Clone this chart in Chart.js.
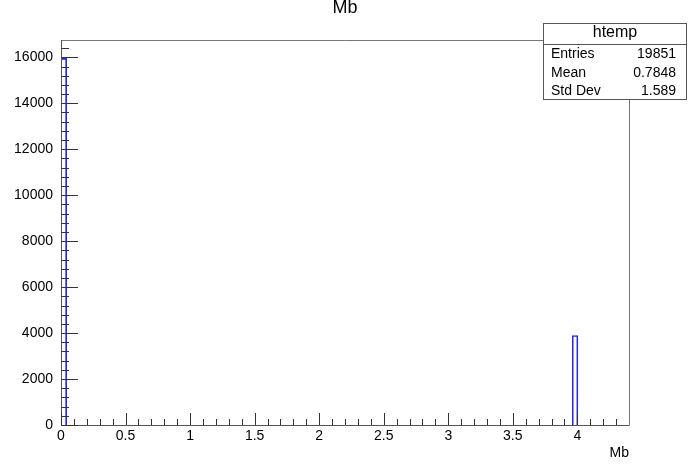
<!DOCTYPE html>
<html>
<head>
<meta charset="utf-8">
<script src="https://cdn.jsdelivr.net/npm/chart.js@4.4.1/dist/chart.umd.min.js"></script>
<style>
    html, body { margin: 0; padding: 0; background: #fff; }
    canvas { display: block; }
</style>
</head>
<body>
<canvas id="histChart" width="690" height="466"></canvas>
<script>
// -----------------------------
// HISTOGRAM DATA (htemp, Mb)
// -----------------------------
const histTitle = 'Mb';
const xAxisTitle = 'Mb';
const xMin = 0;
const xMax = 4.4;
const nBins = 100;
const filledBins = [0, 90];          // bin index of the non-empty bins
const filledCounts = [15956, 3895];  // entries in those bins
const yMax = 16754;

const xTickValues = [0, 0.5, 1, 1.5, 2, 2.5, 3, 3.5, 4];
const xTickLabels = ['0', '0.5', '1', '1.5', '2', '2.5', '3', '3.5', '4'];
const yTickValues = [0, 2000, 4000, 6000, 8000, 10000, 12000, 14000, 16000];
const yTickLabels = ['0', '2000', '4000', '6000', '8000', '10000', '12000', '14000', '16000'];

const statsName = 'htemp';
const statsLabels = ['Entries', 'Mean', 'Std Dev'];
const statsValues = ['19851', '0.7848', '1.589'];

const FONT = 'Liberation Sans, Arial, Helvetica, sans-serif';

// histogram bins -> bar points
const binWidth = (xMax - xMin) / nBins;
const histData = [];
for (let i = 0; i < nBins; i++) {
    const k = filledBins.indexOf(i);
    histData.push({
        x: xMin + (i + 0.5) * binWidth,
        y: k >= 0 ? filledCounts[k] : 0
    });
}

// -----------------------------
// ROOT STYLE FRAME, TICKS, STATS BOX
// -----------------------------
const rootFrame = {
    id: 'rootFrame',
    afterDatasetsDraw(chart) {
        const { ctx, chartArea: a, scales: { x, y } } = chart;
        ctx.save();

        // frame
        ctx.strokeStyle = '#777';
        ctx.lineWidth = 1;
        ctx.beginPath();
        ctx.moveTo(a.left, a.top + 0.5);
        ctx.lineTo(a.right + 0.5, a.top + 0.5);
        ctx.lineTo(a.right + 0.5, a.bottom);
        ctx.stroke();

        // axes
        ctx.strokeStyle = '#555';
        ctx.beginPath();
        ctx.moveTo(a.left + 0.5, a.top);
        ctx.lineTo(a.left + 0.5, a.bottom + 0.5);
        ctx.lineTo(a.right + 0.5, a.bottom + 0.5);
        ctx.stroke();

        // x ticks, inside
        ctx.strokeStyle = '#333';
        ctx.beginPath();
        for (let v = 0; v <= 43; v++) {
            const px = Math.round(x.getPixelForValue(v / 10)) + 0.5;
            const len = v % 5 === 0 ? 12 : 6;
            ctx.moveTo(px, a.bottom);
            ctx.lineTo(px, a.bottom - len);
        }
        // y ticks, inside
        for (let v = 0; v <= 41; v++) {
            const py = Math.round(y.getPixelForValue(v * 400)) + 0.5;
            const len = v % 5 === 0 ? 17 : 8;
            ctx.moveTo(a.left, py);
            ctx.lineTo(a.left + len, py);
        }
        ctx.stroke();

        // x axis title
        ctx.fillStyle = '#000';
        ctx.font = '14px ' + FONT;
        ctx.textAlign = 'right';
        ctx.textBaseline = 'middle';
        ctx.fillText(xAxisTitle, a.right, 453);

        ctx.restore();
    },
    afterDraw(chart) {
        const { ctx } = chart;
        const bx = 543.5, by = 23.5, bw = 143, bh = 76;
        ctx.save();
        ctx.fillStyle = '#fff';
        ctx.fillRect(bx, by, bw, bh);
        ctx.strokeStyle = '#555';
        ctx.lineWidth = 1;
        ctx.strokeRect(bx, by, bw, bh);
        ctx.beginPath();
        ctx.moveTo(bx, 44.5);
        ctx.lineTo(bx + bw, 44.5);
        ctx.stroke();

        ctx.fillStyle = '#000';
        ctx.textBaseline = 'middle';
        ctx.font = '16px ' + FONT;
        ctx.textAlign = 'center';
        ctx.fillText(statsName, bx + bw / 2, 33);

        ctx.font = '14px ' + FONT;
        statsLabels.forEach((lab, i) => {
            const ty = 54 + i * 18.7;
            ctx.textAlign = 'left';
            ctx.fillText(lab, 551, ty);
            ctx.textAlign = 'right';
            ctx.fillText(statsValues[i], 676, ty);
        });
        ctx.restore();
    }
};

new Chart(document.getElementById('histChart'), {
    type: 'bar',
    data: {
        datasets: [
            {
                label: statsName,
                data: histData,
                backgroundColor: 'rgba(0,0,0,0)',
                borderColor: 'rgb(40,40,230)',
                // first bin's left edge sits under the y axis
                borderWidth: c => c.dataIndex === 0
                    ? { left: 0, top: 1, right: 1, bottom: 0 }
                    : 1,
                barPercentage: 1,
                categoryPercentage: 1,
                grouped: false
            }
        ]
    },
    options: {
        responsive: false,
        animation: false,
        devicePixelRatio: 1,
        layout: { padding: 0 },
        plugins: {
            legend: { display: false },
            tooltip: { enabled: false },
            title: {
                display: true,
                text: histTitle,
                color: '#000',
                font: { family: FONT, size: 18, weight: 'normal', lineHeight: 0.9 },
                padding: { top: 0, bottom: 23.8 }
            }
        },
        scales: {
            x: {
                type: 'linear',
                min: xMin,
                max: xMax,
                offset: false,
                grid: { display: false, drawTicks: false },
                border: { display: false },
                ticks: {
                    padding: 3,
                    color: '#000',
                    maxRotation: 0,
                    autoSkip: false,
                    font: { family: FONT, size: 14 },
                    callback: (v) => {
                        const i = xTickValues.indexOf(v);
                        return i >= 0 ? xTickLabels[i] : '';
                    }
                },
                afterBuildTicks: s => { s.ticks = xTickValues.map(v => ({ value: v })); },
                afterFit: s => { s.height = 41; }
            },
            y: {
                min: 0,
                max: yMax,
                grid: { display: false, drawTicks: false },
                border: { display: false },
                ticks: {
                    padding: 8,
                    color: '#000',
                    autoSkip: false,
                    font: { family: FONT, size: 14 },
                    callback: (v) => {
                        const i = yTickValues.indexOf(v);
                        return i >= 0 ? yTickLabels[i] : '';
                    }
                },
                afterBuildTicks: s => { s.ticks = yTickValues.map(v => ({ value: v })); },
                afterFit: s => { s.width = 61; }
            },
            // empty right-hand margin so the title centres on the canvas
            yRight: {
                position: 'right',
                min: 0,
                max: yMax,
                grid: { display: false, drawTicks: false },
                border: { display: false },
                ticks: { display: false },
                afterFit: s => { s.width = 61; }
            }
        }
    },
    plugins: [rootFrame]
});
</script>
</body>
</html>
